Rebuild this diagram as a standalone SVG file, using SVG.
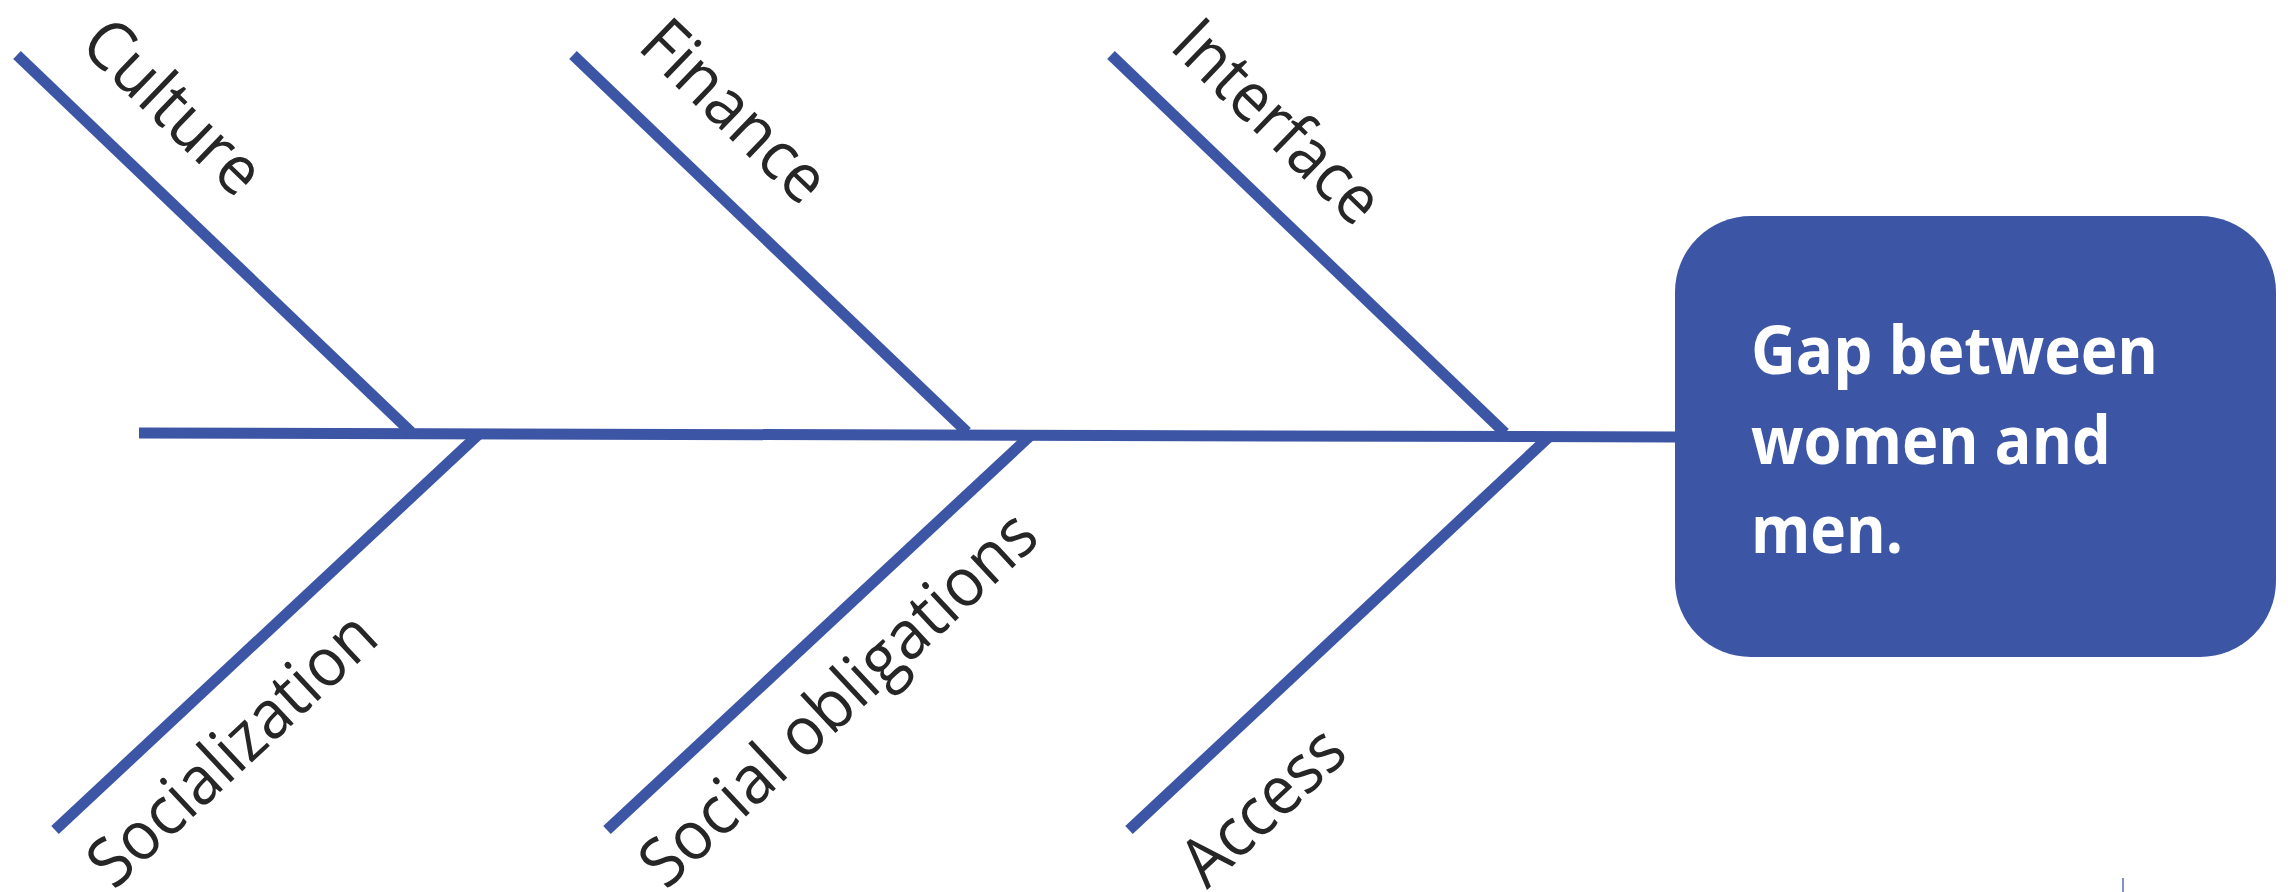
<svg xmlns="http://www.w3.org/2000/svg" width="2288" height="892" viewBox="0 0 2288 892">
<style>
.bone{stroke:#3D55A5;stroke-width:11;fill:none;stroke-linecap:butt}
.lbl{font-family:"Open Sans","Noto Sans","Liberation Sans",sans-serif;font-size:68px;fill:#262626}
.head{font-family:"Open Sans","Noto Sans","Liberation Sans",sans-serif;font-size:66px;font-weight:bold;fill:#FFFFFF}
</style>
<rect width="2288" height="892" fill="#FFFFFF"/>
<g id="connectors">
<line class="bone" x1="139" y1="433" x2="1675" y2="437"/>
<line class="bone" x1="17" y1="55" x2="411" y2="432"/>
<line class="bone" x1="573" y1="55" x2="967" y2="432"/>
<line class="bone" x1="1111" y1="55" x2="1505" y2="433"/>
<line class="bone" x1="55" y1="830" x2="478" y2="435"/>
<line class="bone" x1="607" y1="830" x2="1030" y2="436"/>
<line class="bone" x1="1129" y1="830" x2="1550" y2="436"/>
</g>
<g id="culture"><text class="lbl" transform="translate(78,47) rotate(44)" textLength="220" lengthAdjust="spacingAndGlyphs">Culture</text></g>
<g id="finance"><text class="lbl" transform="translate(636,48) rotate(44)" textLength="230" lengthAdjust="spacingAndGlyphs">Finance</text></g>
<g id="interface"><text class="lbl" transform="translate(1168,48) rotate(44)" textLength="260" lengthAdjust="spacingAndGlyphs">Interface</text></g>
<g id="socialization"><text class="lbl" transform="translate(114,891) rotate(-43)" textLength="366" lengthAdjust="spacingAndGlyphs">Socialization</text></g>
<g id="social-obligations"><text class="lbl" transform="translate(666,891) rotate(-43)" textLength="514" lengthAdjust="spacingAndGlyphs">Social obligations</text></g>
<g id="access"><text class="lbl" transform="translate(1207,890) rotate(-43)" textLength="196" lengthAdjust="spacingAndGlyphs">Access</text></g>
<g id="gap">
<rect x="1675" y="216" width="601" height="441" rx="76" ry="76" fill="#3D55A5"/>
<text class="head" x="1751" y="374" textLength="407" lengthAdjust="spacingAndGlyphs">Gap between</text>
<text class="head" x="1751" y="464" textLength="360" lengthAdjust="spacingAndGlyphs">women and</text>
<text class="head" x="1751" y="553" textLength="152" lengthAdjust="spacingAndGlyphs">men.</text>
</g>
<line x1="2123" y1="878" x2="2123" y2="892" stroke="#8090C8" stroke-width="2"/>
</svg>
